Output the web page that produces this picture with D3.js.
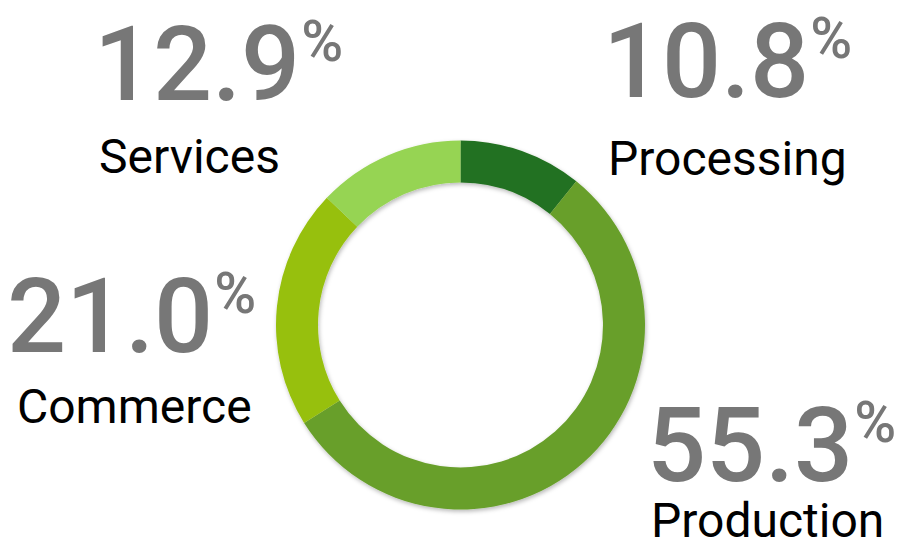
<!DOCTYPE html>
<html lang="en">
<head>
  <meta charset="UTF-8">
  <title>Sector share donut</title>
  <script src="https://d3js.org/d3.v7.min.js"></script>
  <style>
    html, body {
      margin: 0;
      padding: 0;
      background: #fff;
      overflow: hidden;
    }
    svg { display: block; }
    .num { font-family: Roboto, sans-serif; fill: #777; font-weight: 500; }
    .lbl { font-family: Roboto, sans-serif; fill: #000; }
  </style>
</head>
<body>
<svg></svg>
<script>
// data, clockwise from 12 o'clock
const sectors = ["Processing", "Production", "Commerce", "Services"];
const shares = [10.8, 55.3, 21.0, 12.9];
const colors = ["#247120", "#689f2c", "#97c00f", "#96d453"];

// layout only: [number x, number baseline, label x, label baseline]
const labelPos = {
  "Processing": [603, 97, 608, 175],
  "Production": [647, 481, 651, 537],
  "Commerce": [7, 352, 17, 423],
  "Services": [94, 100, 99, 173]
};

const width = 900, height = 547;
const cx = 460.5, cy = 325, outerR = 184.5, innerR = 142.5;

const svg = d3.select("svg").attr("width", width).attr("height", height);

const defs = svg.append("defs");
const f = defs.append("filter").attr("id", "shadow")
  .attr("x", "-10%").attr("y", "-10%").attr("width", "120%").attr("height", "120%");
f.append("feDropShadow")
  .attr("dx", 1).attr("dy", 2).attr("stdDeviation", 2)
  .attr("flood-color", "#000").attr("flood-opacity", 0.28);

const data = sectors.map((s, i) => ({ name: s, value: shares[i], color: colors[i] }));

const pie = d3.pie().sort(null).value(d => d.value);
const arc = d3.arc().innerRadius(innerR).outerRadius(outerR);

svg.append("g")
  .attr("transform", `translate(${cx},${cy})`)
  .attr("filter", "url(#shadow)")
  .selectAll("path")
  .data(pie(data))
  .join("path")
  .attr("d", arc)
  .attr("fill", d => d.data.color);

const labels = svg.append("g")
  .selectAll("g")
  .data(data)
  .join("g");

labels.each(function(d) {
  const g = d3.select(this);
  const p = labelPos[d.name];
  const num = g.append("text")
    .attr("class", "num")
    .attr("x", p[0])
    .attr("y", p[1])
    .attr("font-size", 104)
    .text(d.value.toFixed(1));
  const w = num.node().getComputedTextLength();
  g.append("text")
    .attr("class", "num")
    .attr("x", p[0] + w + 1)
    .attr("y", p[1] - 39)
    .attr("font-size", 57)
    .text("%");
  g.append("text")
    .attr("class", "lbl")
    .attr("x", p[2])
    .attr("y", p[3])
    .attr("font-size", 48)
    .text(d.name);
});
</script>
</body>
</html>
